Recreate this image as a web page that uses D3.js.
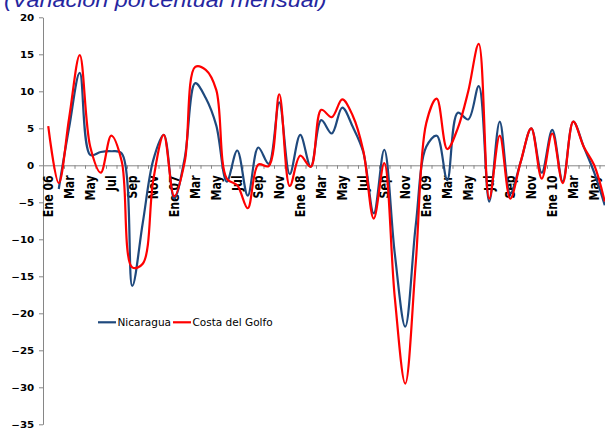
<!DOCTYPE html>
<html>
<head>
<meta charset="utf-8">
<script src="https://d3js.org/d3.v7.min.js"></script>
<style>
body { margin: 0; background: #fff; }
svg { display: block; }
</style>
</head>
<body>
<script>
// monthly % change, Ene 06 .. Jun 10
let months = ["Ene 06","Feb 06","Mar 06","Abr 06","May 06","Jun 06","Jul 06","Ago 06","Sep 06","Oct 06","Nov 06","Dic 06",
              "Ene 07","Feb 07","Mar 07","Abr 07","May 07","Jun 07","Jul 07","Ago 07","Sep 07","Oct 07","Nov 07","Dic 07",
              "Ene 08","Feb 08","Mar 08","Abr 08","May 08","Jun 08","Jul 08","Ago 08","Sep 08","Oct 08","Nov 08","Dic 08",
              "Ene 09","Feb 09","Mar 09","Abr 09","May 09","Jun 09","Jul 09","Ago 09","Sep 09","Oct 09","Nov 09","Dic 09",
              "Ene 10","Feb 10","Mar 10","Abr 10","May 10","Jun 10"]
let tickLabels = ["Ene 06","Mar","May","Jul","Sep","Nov","Ene 07","Mar","May","Jul","Sep","Nov",
                  "Ene 08","Mar","May","Jul","Sep","Nov","Ene 09","Mar","May","Jul","Sep","Nov",
                  "Ene 10","Mar","May"]
let nicaragua = [null, -3.2, 5.2, 12.5, 1.4, 1.8, 1.9, 1.6, -16.3, -7.8, 0.7, 4.1,
                 -4.5, 1.0, 11.1, 9.1, 5.4, -2.2, 2.0, -4.1, 2.4, 0.2, 8.5, -1.2,
                 4.1, -0.2, 6.1, 4.3, 7.8, 5.2, 1.8, -6.5, 2.1, -11.9, -21.8, -8.1,
                 2.5, 4.0, -2.0, 7.1, 6.2, 10.7, -4.9, 5.9, -3.8, 0.5, 5.0, -1.0,
                 4.8, -2.2, 5.9, 2.5, -1.0, -5.4]
let costa = [5.3, -2.4, 6.5, 14.9, 2.5, -1.0, 4.0, 0.5, -13.8, -13.3, -2.0, 4.1,
             -4.2, 0.5, 13.3, 12.9, 10.2, -1.8, -2.7, -5.8, 0.1, -0.1, 9.6, -2.8,
             1.3, -0.2, 7.5, 6.5, 8.9, 6.7, 2.0, -7.2, 0.3, -17.8, -29.5, -13.2,
             5.7, 9.0, 2.2, 5.0, 10.0, 16.4, -4.5, 4.0, -4.5, 0.5, 5.0, -1.8,
             4.3, -2.4, 5.9, 2.5, 0.0, -4.9]
let seriesNames = ["Nicaragua", "Costa del Golfo"]
let seriesColors = ["#1f497d", "#ff0000"]
let yTicks = [-35, -30, -25, -20, -15, -10, -5, 0, 5, 10, 15, 20]

let width = 605, height = 430
let plotLeft = 43, plotRight = 610, plotTop = 17.3, plotBottom = 424.3
let stretch = 1.2 // the picture is a bit wider than tall

let svg = d3.select("body").append("svg")
    .attr("width", width).attr("height", height)

let x = d3.scaleBand().domain(months).range([plotLeft, plotRight])
let xEdge = d3.scaleLinear().domain([0, months.length]).range([plotLeft, plotRight])
let y = d3.scaleLinear().domain([-35, 20]).range([plotBottom, plotTop])

// title, partly cut off at the top like the source
svg.append("text")
    .attr("transform", "translate(4,7) scale(" + stretch + ",1)")
    .attr("font-family", "Liberation Sans")
    .attr("font-style", "italic")
    .attr("font-size", "19.5px")
    .attr("fill", "#2626a0")
    .text("(Variación porcentual mensual)")

// y axis
let yAxis = svg.append("g")
    .attr("transform", "translate(" + plotLeft + ",0)")
    .call(d3.axisLeft(y).tickValues(yTicks).tickSize(4).tickSizeOuter(0).tickPadding(3.3))
yAxis.select(".domain").attr("stroke", "#868686")
yAxis.selectAll(".tick line").attr("stroke", "#868686")
yAxis.selectAll(".tick text")
    .attr("transform", "scale(" + stretch + ",1)")
    .attr("font-family", "DejaVu Sans")
    .attr("font-weight", "bold")
    .attr("font-size", "8.6px")
    .attr("fill", "#000")

// x axis on the zero line, ticks between months
let xAxis = svg.append("g")
    .attr("transform", "translate(0," + y(0) + ")")
    .call(d3.axisBottom(xEdge).tickValues(d3.range(0, months.length + 1)).tickSize(3.5).tickSizeOuter(0).tickFormat(""))
xAxis.select(".domain").attr("stroke", "#868686")
xAxis.selectAll(".tick line").attr("stroke", "#868686")

svg.append("g").selectAll("text")
    .data(tickLabels)
    .join("text")
    .attr("transform", (d, i) => "translate(" + (x(months[i * 2]) + x.bandwidth() / 2) + "," + (y(0) + 10) + ") scale(" + stretch + ",1) rotate(-90)")
    .attr("text-anchor", "end")
    .attr("dy", "0.36em")
    .attr("font-family", "DejaVu Sans")
    .attr("font-weight", "bold")
    .attr("font-size", "11px")
    .attr("fill", "#000")
    .text(d => d)

// lines
let line = d3.line()
    .defined(d => d.v != null)
    .x(d => x(d.m) + x.bandwidth() / 2)
    .y(d => y(d.v))
    .curve(d3.curveCatmullRom.alpha(0.5))

let series = [nicaragua, costa]
series.forEach(function(vals, s) {
    svg.append("path")
        .datum(vals.map((v, i) => ({m: months[i], v: v})))
        .attr("d", line)
        .attr("fill", "none")
        .attr("stroke", seriesColors[s])
        .attr("stroke-width", 2.2)
})

// legend
let legendY = 322.3
let legendX = [98, 173]
let legend = svg.append("g").selectAll("g")
    .data(seriesNames)
    .join("g")
    .attr("transform", (d, i) => "translate(" + legendX[i] + "," + legendY + ")")
legend.append("line")
    .attr("x1", 0).attr("x2", 18)
    .attr("stroke", (d, i) => seriesColors[i])
    .attr("stroke-width", 2.2)
legend.append("text")
    .attr("x", 19.5)
    .attr("dy", "0.35em")
    .attr("font-family", "DejaVu Sans")
    .attr("font-size", "10.5px")
    .attr("fill", "#000")
    .text(d => d)
</script>
</body>
</html>
